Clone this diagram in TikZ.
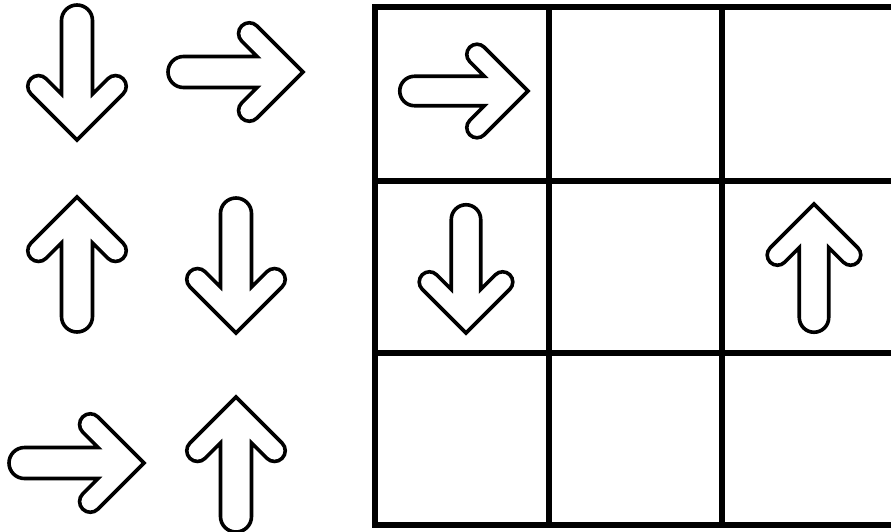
\documentclass[tikz,border=0pt]{standalone}
\begin{document}
\begin{tikzpicture}[x=1pt,y=1pt,
  gridline/.style={line width=6.5pt,draw=black},
  arrowline/.style={line width=3.6pt,draw=black,fill=white,line join=miter},
  bigarrow/.pic={
    \draw[arrowline] (0,0) -- (-46.1,46.1)
      arc[start angle=45,end angle=225,radius=10.75]
      -- (-45.9,15.5) -- (-119.5,15.5)
      arc[start angle=90,end angle=270,radius=15.5]
      -- (-45.9,-15.5) -- (-61.3,-30.9)
      arc[start angle=135,end angle=315,radius=10.75]
      -- cycle;
  }]
\useasboundingbox (0,0) rectangle (891,-531);
\clip (0,0) rectangle (891,-531);
\fill[white] (0,0) rectangle (891,-531);
% grid
\draw[gridline] (375,-7) rectangle (899,-525);
\draw[gridline] (549,-7) -- (549,-525);
\draw[gridline] (722,-7) -- (722,-525);
\draw[gridline] (375,-181) -- (899,-181);
\draw[gridline] (375,-353) -- (899,-353);
% loose arrows
\pic[rotate=-90] at (77,-140) {bigarrow};
\pic at (303,-72) {bigarrow};
\pic[rotate=90] at (77,-197) {bigarrow};
\pic[rotate=-90] at (236,-333) {bigarrow};
\pic at (144,-463) {bigarrow};
\pic[rotate=90] at (236,-397) {bigarrow};
% arrows in grid
\pic[scale=0.95] at (528,-91) {bigarrow};
\pic[rotate=-90,scale=0.95] at (466,-333) {bigarrow};
\pic[rotate=90,scale=0.95] at (814,-204) {bigarrow};
\end{tikzpicture}
\end{document}
